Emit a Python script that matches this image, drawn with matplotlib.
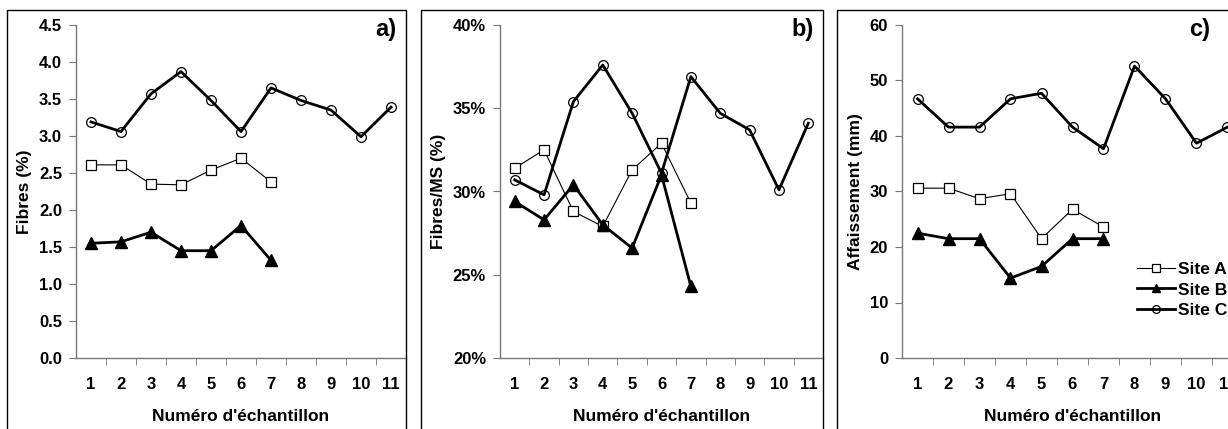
import matplotlib
matplotlib.use("Agg")
import matplotlib.pyplot as plt
from matplotlib.patches import Rectangle
from matplotlib.ticker import FuncFormatter, FixedLocator

plt.rcParams["font.family"] = ["Liberation Sans", "DejaVu Sans"]
plt.rcParams["font.weight"] = "bold"

samples = list(range(1, 12))

# a) fibre content (%)
fibres_a = [2.61, 2.61, 2.35, 2.34, 2.54, 2.70, 2.38]
fibres_b = [1.55, 1.57, 1.70, 1.45, 1.45, 1.79, 1.32]
fibres_c = [3.19, 3.06, 3.57, 3.87, 3.48, 3.06, 3.65, 3.48, 3.35, 2.99, 3.39]

# b) fibres / dry matter (%)
fms_a = [31.4, 32.5, 28.8, 27.9, 31.3, 32.9, 29.3]
fms_b = [29.4, 28.3, 30.4, 28.0, 26.6, 31.0, 24.3]
fms_c = [30.7, 29.8, 35.4, 37.6, 34.7, 31.1, 36.9, 34.7, 33.7, 30.1, 34.1]

# c) slump (mm)
slump_a = [30.6, 30.6, 28.7, 29.6, 21.5, 26.8, 23.6]
slump_b = [22.5, 21.5, 21.5, 14.4, 16.5, 21.5, 21.5]
slump_c = [46.7, 41.6, 41.6, 46.7, 47.7, 41.6, 37.7, 52.6, 46.7, 38.7, 41.6]

site_labels = ["Site A", "Site B", "Site C"]

W, H = 1228, 429
fig = plt.figure(figsize=(W / 100, H / 100), dpi=100)


def px_axes(left, right, top, bottom):
    return fig.add_axes([left / W, (H - bottom) / H, (right - left) / W, (bottom - top) / H])


def frame(left, right, top):
    fig.add_artist(Rectangle((left / W, -0.05), (right - left) / W, (H - top) / H + 0.05,
                             transform=fig.transFigure, fill=False, lw=1.0, ec="black"))


def draw_panel(ax, a, b, c, ylim, yticks, fmt, ylabel, tag):
    ax.plot(samples[:len(a)], a, color="black", lw=0.8, marker="s", ms=6.5,
            mfc="white", mec="black", mew=0.9, label=site_labels[0])
    ax.plot(samples[:len(b)], b, color="black", lw=2.0, marker="^", ms=8,
            mfc="black", mec="black", label=site_labels[1])
    ax.plot(samples[:len(c)], c, color="black", lw=2.0, marker="o", ms=7,
            mfc="none", mec="black", mew=0.9, label=site_labels[2])
    ax.set_xlim(0.5, 11.5)
    ax.set_ylim(*ylim)
    ax.set_yticks(yticks)
    ax.yaxis.set_major_formatter(FuncFormatter(fmt))
    ax.set_xticks(samples)
    ax.xaxis.set_minor_locator(FixedLocator([s + 0.5 for s in samples]))
    ax.tick_params(axis="x", which="major", length=0, pad=14, labelsize=12)
    ax.tick_params(axis="x", which="minor", length=5, color="#777777", direction="out")
    ax.tick_params(axis="y", length=5, color="#777777", labelsize=12, pad=5)
    for s in ("top", "right"):
        ax.spines[s].set_visible(False)
    for s in ("left", "bottom"):
        ax.spines[s].set_color("#777777")
        ax.spines[s].set_linewidth(1.0)
    ax.set_facecolor("none")
    ax.set_xlabel("Numéro d'échantillon", fontsize=12.5, fontweight="bold", labelpad=12)
    ax.set_ylabel(ylabel, fontsize=12.5, fontweight="bold", labelpad=5)
    ax.text(0.97, 0.985, tag, transform=ax.transAxes, ha="right", va="center",
            fontsize=17, fontweight="bold")


frame(7, 406, 10)
ax1 = px_axes(76, 406, 25, 358)
draw_panel(ax1, fibres_a, fibres_b, fibres_c, (0, 4.5), [i * 0.5 for i in range(10)],
           lambda v, p: f"{v:.1f}", "Fibres (%)", "a)")

frame(421, 823, 10)
ax2 = px_axes(500, 823, 25, 358)
draw_panel(ax2, fms_a, fms_b, fms_c, (20, 40), [20, 25, 30, 35, 40],
           lambda v, p: f"{v:.0f}%", "Fibres/MS (%)", "b)")

frame(837, 1400, 10)
ax3 = px_axes(902, 1243, 25, 358)
draw_panel(ax3, slump_a, slump_b, slump_c, (0, 60), [0, 10, 20, 30, 40, 50, 60],
           lambda v, p: f"{v:.0f}", "Affaissement (mm)", "c)")
ax3.texts[-1].set_position((0.905, 0.985))

ax3.legend(loc="upper left", bbox_to_anchor=(1137 / W, (H - 262) / H),
           bbox_transform=fig.transFigure, frameon=False, borderpad=0,
           borderaxespad=0, handlelength=2.2, handletextpad=0.15,
           labelspacing=0.3, markerscale=0.8, prop={"size": 12.5, "weight": "bold"})

fig.savefig("out.png", dpi=100)
